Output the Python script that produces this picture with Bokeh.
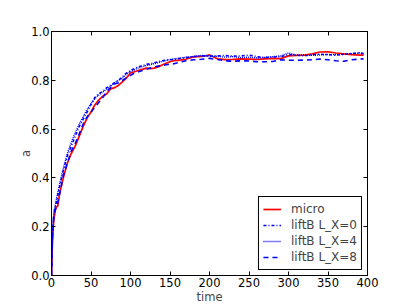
from bokeh.plotting import figure
from bokeh.models import FixedTicker, PrintfTickFormatter, LinearAxis, Range1d
from bokeh.embed import file_html
from bokeh.resources import INLINE

time = [0, 1, 2, 3, 4, 5, 6, 8, 10, 12, 15,
        20, 25, 30, 35, 40, 45, 50, 55, 60, 65, 70, 75, 80, 85, 90, 95, 100,
        105, 110, 115, 120, 125, 130, 135, 140, 145, 150, 155, 160, 165, 170,
        175, 180, 185, 190, 195, 200,
        210, 220, 230, 240, 250, 260, 270, 280, 290, 300, 310, 320, 330, 340,
        350, 360, 370, 380, 390, 395]

micro = [0.0, 0.12, 0.19, 0.23, 0.25, 0.27, 0.28, 0.285, 0.33, 0.36, 0.40,
         0.46, 0.50, 0.53, 0.57, 0.61, 0.645, 0.67, 0.70, 0.72, 0.735, 0.745, 0.765, 0.77, 0.78, 0.795, 0.81, 0.83,
         0.835, 0.84, 0.845, 0.85, 0.848, 0.85, 0.855, 0.863, 0.87, 0.876, 0.88, 0.882, 0.884, 0.886,
         0.892, 0.896, 0.897, 0.898, 0.90, 0.904,
         0.888, 0.885, 0.886, 0.888, 0.887, 0.886, 0.888, 0.89, 0.889, 0.90, 0.902, 0.903, 0.908, 0.916,
         0.917, 0.912, 0.908, 0.905, 0.903, 0.903]

lx0 = [0.0, 0.15, 0.21, 0.25, 0.27, 0.28, 0.30, 0.33, 0.36, 0.39, 0.43,
       0.49, 0.53, 0.57, 0.61, 0.64, 0.67, 0.70, 0.73, 0.745, 0.755, 0.77, 0.78, 0.79, 0.80, 0.815, 0.83, 0.84,
       0.848, 0.855, 0.86, 0.865, 0.868, 0.872, 0.876, 0.88, 0.882, 0.884, 0.886, 0.888, 0.891, 0.893,
       0.895, 0.897, 0.899, 0.90, 0.899, 0.898,
       0.90, 0.902, 0.899, 0.90, 0.903, 0.897, 0.893, 0.895, 0.897, 0.905, 0.903, 0.90, 0.905, 0.907,
       0.905, 0.903, 0.906, 0.91, 0.912, 0.91]

lx4 = [0.0, 0.16, 0.22, 0.26, 0.28, 0.29, 0.31, 0.34, 0.37, 0.40, 0.44,
       0.50, 0.545, 0.585, 0.62, 0.65, 0.68, 0.705, 0.725, 0.74, 0.752, 0.765, 0.775, 0.79, 0.80, 0.81, 0.825, 0.835,
       0.843, 0.85, 0.855, 0.86, 0.864, 0.868, 0.872, 0.877, 0.881, 0.885, 0.887, 0.89, 0.892, 0.894,
       0.896, 0.898, 0.90, 0.902, 0.901, 0.90,
       0.898, 0.895, 0.897, 0.893, 0.895, 0.892, 0.894, 0.897, 0.90, 0.912, 0.903, 0.905, 0.902, 0.904,
       0.906, 0.905, 0.907, 0.909, 0.912, 0.908]

lx8 = [0.0, 0.14, 0.20, 0.24, 0.26, 0.27, 0.28, 0.30, 0.33, 0.36, 0.41,
       0.46, 0.51, 0.54, 0.58, 0.62, 0.65, 0.67, 0.69, 0.71, 0.73, 0.755, 0.77, 0.785, 0.79, 0.80, 0.81, 0.82,
       0.83, 0.835, 0.84, 0.845, 0.85, 0.855, 0.858, 0.86, 0.864, 0.866, 0.868, 0.872, 0.876, 0.88,
       0.882, 0.884, 0.885, 0.886, 0.888, 0.89,
       0.885, 0.88, 0.878, 0.88, 0.879, 0.876, 0.876, 0.877, 0.884, 0.882, 0.882, 0.883, 0.884, 0.887,
       0.884, 0.88, 0.878, 0.884, 0.887, 0.888]

x_ticks = [0, 50, 100, 150, 200, 250, 300, 350, 400]
y_ticks = [0.0, 0.2, 0.4, 0.6, 0.8, 1.0]

FONT = "DejaVu Sans"
TICK_SIZE = "11.5px"

p = figure(width=406, height=306, output_backend="svg", toolbar_location=None,
           x_range=Range1d(0, 400), y_range=Range1d(0, 1.0),
           min_border_left=51, min_border_right=39, min_border_top=31, min_border_bottom=29)
p.background_fill_color = "white"
p.border_fill_color = "white"
p.outline_line_color = "black"
p.outline_line_width = 1
p.xgrid.visible = False
p.ygrid.visible = False

p.line(time, micro, line_color="#ff0000", line_width=1.7, legend_label="micro")
p.line(time, lx0, line_color="#0000ff", line_width=1.6, line_dash="3 2 1 2", legend_label="liftB L_X=0")
p.line(time, lx4, line_color="#0000ff", line_width=1.4, line_dash="1 1", legend_label="liftB L_X=4")
p.line(time, lx8, line_color="#0000ff", line_width=1.6, line_dash="5 4", legend_label="liftB L_X=8")

def style_axis(ax, ticks, labels=True):
    ax.ticker = FixedTicker(ticks=ticks)
    ax.major_tick_in = 4
    ax.major_tick_out = 0
    ax.minor_tick_line_color = None
    ax.major_tick_line_color = "black"
    ax.axis_line_color = "black"
    ax.major_label_text_font = FONT
    ax.major_label_text_color = "black"
    ax.major_label_text_font_size = TICK_SIZE
    if labels:
        ax.major_label_standoff = 2
    else:
        ax.major_label_overrides = {t: "" for t in ticks}
        ax.major_label_standoff = 0

xa = p.xaxis[0]
style_axis(xa, x_ticks)
xa.formatter = PrintfTickFormatter(format="%d")
xa.axis_label = "time"
xa.axis_label_text_font = FONT
xa.axis_label_text_font_size = TICK_SIZE
xa.axis_label_text_font_style = "normal"
xa.axis_label_standoff = 0

ya = p.yaxis[0]
style_axis(ya, y_ticks)
ya.formatter = PrintfTickFormatter(format="%.1f")
ya.axis_label = "a"
ya.axis_label_text_font = FONT
ya.axis_label_text_font_size = TICK_SIZE
ya.axis_label_text_font_style = "normal"
ya.axis_label_standoff = -5

top = LinearAxis()
style_axis(top, x_ticks, labels=False)
p.add_layout(top, "above")
right = LinearAxis()
style_axis(right, y_ticks, labels=False)
p.add_layout(right, "right")

lg = p.legend[0]
lg.location = "bottom_right"
lg.margin = 5
lg.padding = 4
lg.spacing = 0
lg.border_line_color = "black"
lg.border_line_width = 1
lg.border_line_alpha = 1
lg.background_fill_color = "white"
lg.background_fill_alpha = 1
lg.label_text_font = FONT
lg.label_text_font_size = "12px"
lg.glyph_width = 18
lg.glyph_height = 16
lg.label_height = 16
lg.label_standoff = 10

open("out.html", "w").write(file_html(p, INLINE))
